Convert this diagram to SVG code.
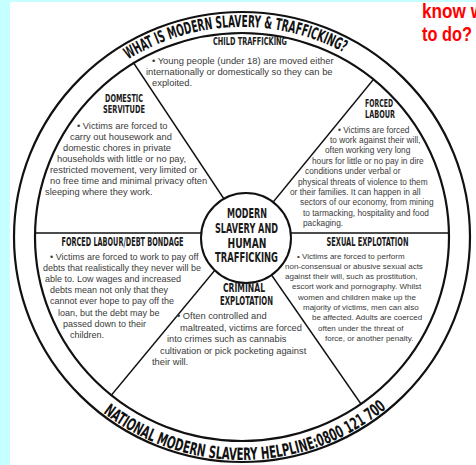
<svg xmlns="http://www.w3.org/2000/svg" width="476" height="465" viewBox="0 0 476 465">
  <style>
    .ring { fill: none; stroke: #111; stroke-width: 2.2; }
    .spoke { stroke: #111; stroke-width: 1.4; fill: none; }
    .head { font-family: "Liberation Sans Narrow", "DejaVu Sans Condensed", "Liberation Sans", sans-serif; font-weight: bold; fill: #1a1a1a; text-anchor: middle; }
    .body { font-family: "Liberation Sans", Arial, sans-serif; fill: #3a3a3a; }
    .arc { font-family: "Liberation Sans Narrow", "DejaVu Sans Condensed", "Liberation Sans", sans-serif; font-weight: bold; fill: #111; }
    .note { font-family: "Liberation Sans Narrow", "Liberation Sans", Arial, sans-serif; font-weight: bold; fill: #ff0000; font-size: 21px; }
  </style>
  <defs>
    <!-- baseline arcs around the wheel centre (242,237) -->
    <path id="topArc" d="M 29 237 A 213 210 0 0 1 455 237"/>
    <path id="bottomArc" d="M 16 237 A 226 223 0 0 0 468 237"/>
  </defs>

  <!-- page -->
  <rect x="0" y="0" width="476" height="465" fill="#c6ffff"/>
  <rect x="10" y="2" width="466" height="463" fill="#ffffff"/>

  <text class="note" x="422" y="18" textLength="62" lengthAdjust="spacingAndGlyphs">know w</text>
  <text class="note" x="422" y="41" textLength="50" lengthAdjust="spacingAndGlyphs">to do?</text>

  <!-- dividers between the sections -->
  <g id="spokes">
    <line class="spoke" x1="133" y1="62" x2="228" y2="205"/>
    <line class="spoke" x1="373" y1="80" x2="265" y2="212"/>
    <line class="spoke" x1="35" y1="233" x2="215" y2="233"/>
    <line class="spoke" x1="449" y1="233" x2="280" y2="233"/>
    <line class="spoke" x1="111.5" y1="395" x2="225" y2="258"/>
    <line class="spoke" x1="361" y1="404" x2="266" y2="267"/>
  </g>

  <!-- outer band -->
  <g id="wheel-band">
    <ellipse class="ring" cx="242" cy="237" rx="228" ry="225"/>
    <ellipse class="ring" cx="242" cy="237" rx="207" ry="204"/>
  </g>

  <g id="title-ring">
    <text class="arc" font-size="16.5"><textPath href="#topArc" startOffset="325" text-anchor="middle" textLength="226" lengthAdjust="spacingAndGlyphs">WHAT IS MODERN SLAVERY &amp; TRAFFICKING?</textPath></text>
  </g>

  <g id="helpline">
    <text class="arc" font-size="17"><textPath href="#bottomArc" startOffset="356" text-anchor="middle" textLength="306" lengthAdjust="spacingAndGlyphs">NATIONAL MODERN SLAVERY HELPLINE:0800 121 700</textPath></text>
  </g>

  <g id="center">
    <circle cx="246" cy="238" r="45" fill="#fff" stroke="#111" stroke-width="2"/>
    <text class="head" font-size="14" x="247" y="218.3" textLength="40" lengthAdjust="spacingAndGlyphs">MODERN</text>
    <text class="head" font-size="14" x="246.5" y="233.3" textLength="63" lengthAdjust="spacingAndGlyphs">SLAVERY AND</text>
    <text class="head" font-size="14" x="247" y="247.5" textLength="39" lengthAdjust="spacingAndGlyphs">HUMAN</text>
    <text class="head" font-size="14" x="246.5" y="261.7" textLength="63" lengthAdjust="spacingAndGlyphs">TRAFFICKING</text>
  </g>

  <g id="child-trafficking">
    <text class="head" font-size="10.5" x="250" y="45" textLength="74" lengthAdjust="spacingAndGlyphs">CHILD TRAFFICKING</text>
    <g class="body" font-size="9.4">
      <text x="152" y="63.5">• Young people (under 18) are moved either</text>
      <text x="146" y="74.5">internationally or domestically so they can be</text>
      <text x="152" y="85.5">exploited.</text>
    </g>
  </g>

  <g id="domestic-servitude">
    <text class="head" font-size="11" x="124" y="102.3" textLength="38" lengthAdjust="spacingAndGlyphs">DOMESTIC</text>
    <text class="head" font-size="11" x="124" y="112.5" textLength="42" lengthAdjust="spacingAndGlyphs">SERVITUDE</text>
    <g class="body" font-size="9.3">
      <text x="77" y="128.5">• Victims are forced to</text>
      <text x="70" y="139.6">carry out housework and</text>
      <text x="63" y="150.7">domestic chores in private</text>
      <text x="57" y="161.7">households with little or no pay,</text>
      <text x="50" y="172.8">restricted movement, very limited or</text>
      <text x="50" y="183.9">no free time and minimal privacy often</text>
      <text x="45" y="195">sleeping where they work.</text>
    </g>
  </g>

  <g id="forced-labour">
    <text class="head" font-size="11" x="379" y="107" textLength="28" lengthAdjust="spacingAndGlyphs">FORCED</text>
    <text class="head" font-size="11" x="380" y="118" textLength="30" lengthAdjust="spacingAndGlyphs">LABOUR</text>
    <g class="body" font-size="8.3">
      <text x="338" y="132.5">• Victims are forced</text>
      <text x="330" y="142.9">to work against their will,</text>
      <text x="325" y="153.3">often working very long</text>
      <text x="312" y="163.7">hours for little or no pay in dire</text>
      <text x="305" y="174.1">conditions under verbal or</text>
      <text x="298" y="184.5">physical threats of violence to them</text>
      <text x="290" y="194.9">or their families. It can happen in all</text>
      <text x="300" y="205.3">sectors of our economy, from mining</text>
      <text x="303" y="215.7">to tarmacking, hospitality and food</text>
      <text x="303" y="226.1">packaging.</text>
    </g>
  </g>

  <g id="debt-bondage">
    <text class="head" font-size="12" x="122.5" y="246" textLength="122" lengthAdjust="spacingAndGlyphs">FORCED LABOUR/DEBT BONDAGE</text>
    <g class="body" font-size="9">
      <text x="50" y="259.5">• Victims are forced to work to pay off</text>
      <text x="43" y="270.7">debts that realistically they never will be</text>
      <text x="45" y="281.9">able to. Low wages and increased</text>
      <text x="50" y="293.1">debts mean not only that they</text>
      <text x="50" y="304.3">cannot ever hope to pay off the</text>
      <text x="58" y="315.5">loan, but the debt may be</text>
      <text x="63" y="326.7">passed down to their</text>
      <text x="70" y="338">children.</text>
    </g>
  </g>

  <g id="sexual-exploitation">
    <text class="head" font-size="12" x="367.5" y="245.7" textLength="82" lengthAdjust="spacingAndGlyphs">SEXUAL EXPLOTATION</text>
    <g class="body" font-size="8">
      <text x="297" y="258.5">• Victims are forced to perform</text>
      <text x="285" y="268.8">non-consensual or abusive sexual acts</text>
      <text x="285" y="279.1">against their will, such as prostitution,</text>
      <text x="292" y="289.4">escort work and pornography. Whilst</text>
      <text x="298" y="299.7">women and children make up the</text>
      <text x="303" y="310">majority of victims, men can also</text>
      <text x="312" y="320.3">be affected. Adults are coerced</text>
      <text x="318" y="330.6">often under the threat of</text>
      <text x="325" y="341">force, or another penalty.</text>
    </g>
  </g>

  <g id="criminal-exploitation">
    <text class="head" font-size="12" x="244" y="291.7" textLength="42" lengthAdjust="spacingAndGlyphs">CRIMINAL</text>
    <text class="head" font-size="12" x="246.5" y="305" textLength="53" lengthAdjust="spacingAndGlyphs">EXPLOTATION</text>
    <g class="body" font-size="9.3">
      <text x="177" y="319">• Often controlled and</text>
      <text x="180" y="330.5">maltreated, victims are forced</text>
      <text x="167" y="342">into crimes such as cannabis</text>
      <text x="160" y="353.5">cultivation or pick pocketing against</text>
      <text x="152" y="365">their will.</text>
    </g>
  </g>
</svg>
